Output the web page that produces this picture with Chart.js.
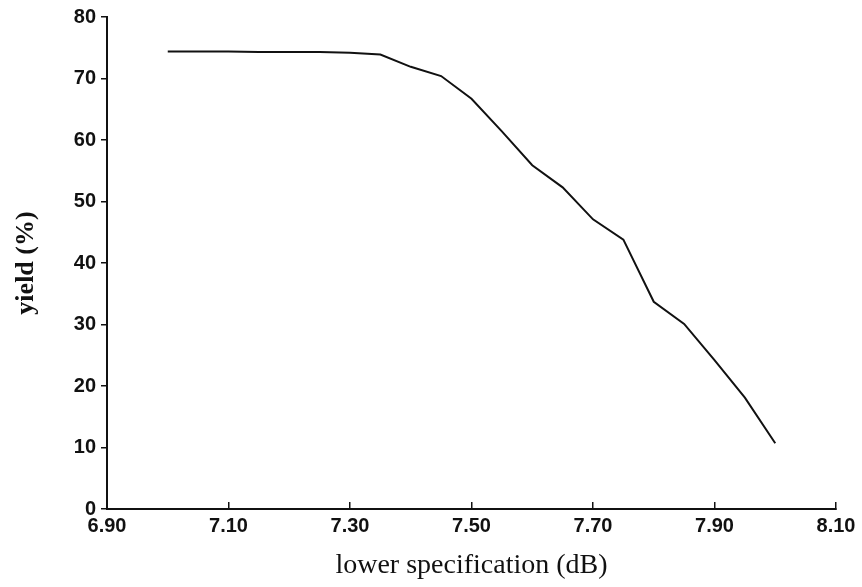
<!DOCTYPE html>
<html>
<head>
<meta charset="utf-8">
<script src="https://cdn.jsdelivr.net/npm/chart.js@4.4.1/dist/chart.umd.min.js"></script>
<style>
  html, body { margin: 0; padding: 0; background: #fff; }
  #wrap { width: 862px; height: 587px; position: relative; }
</style>
</head>
<body>
<div id="wrap"><canvas id="yieldChart"></canvas></div>
<script>
// data
const specs = [7.00, 7.05, 7.10, 7.15, 7.20, 7.25, 7.30, 7.35, 7.40, 7.45, 7.50, 7.55, 7.60, 7.65, 7.70, 7.75, 7.80, 7.85, 7.90, 7.95, 8.00];
const yields = [74.4, 74.4, 74.4, 74.3, 74.3, 74.3, 74.2, 73.9, 71.9, 70.4, 66.7, 61.4, 55.9, 52.3, 47.1, 43.8, 33.7, 30.1, 24.2, 18.1, 10.7];
const xTicks = ['6.90', '7.10', '7.30', '7.50', '7.70', '7.90', '8.10'];
const yTicks = [0, 10, 20, 30, 40, 50, 60, 70, 80];

const tickFont = { family: "'Liberation Sans', Arial, sans-serif", size: 20, weight: 'bold' };

const points = specs.map(function (s, i) { return { x: s, y: yields[i] }; });

const config = {
    type: 'line',
    data: {
        datasets: [{
            data: points,
            borderColor: '#111',
            borderWidth: 2,
            pointRadius: 0,
            tension: 0,
            fill: false
        }]
    },
    options: {
        responsive: false,
        animation: false,
        layout: { padding: { top: 17, right: 26, left: 0, bottom: 0 } },
        plugins: {
            legend: { display: false },
            tooltip: { enabled: false }
        },
        scales: {
            x: {
                type: 'linear',
                min: parseFloat(xTicks[0]),
                max: parseFloat(xTicks[xTicks.length - 1]),
                afterBuildTicks: function (scale) {
                    scale.ticks = xTicks.map(function (t) { return { value: parseFloat(t) }; });
                },
                afterFit: function (scale) {
                    scale.height = 78;
                    // labels may hang over the edge, like the original
                    scale.paddingLeft = 0;
                    scale.paddingRight = 0;
                },
                grid: { drawOnChartArea: false, drawTicks: true, tickLength: -7, color: '#111', lineWidth: 1.5 },
                border: { color: '#111', width: 2 },
                ticks: {
                    color: '#111',
                    font: tickFont,
                    padding: 12,
                    maxRotation: 0,
                    autoSkip: false,
                    callback: function (v) { return Number(v).toFixed(2); }
                },
                title: {
                    display: true,
                    text: 'lower specification (dB)',
                    color: '#111',
                    font: { family: "'Liberation Serif', 'Times New Roman', serif", size: 28 },
                    padding: { top: 0, bottom: 5 }
                }
            },
            y: {
                min: yTicks[0],
                max: yTicks[yTicks.length - 1],
                afterBuildTicks: function (scale) {
                    scale.ticks = yTicks.map(function (t) { return { value: t }; });
                },
                afterFit: function (scale) { scale.width = 107; },
                grid: { drawOnChartArea: false, drawTicks: true, tickLength: 6, color: '#111', lineWidth: 1.5 },
                border: { color: '#111', width: 2 },
                ticks: {
                    color: '#111',
                    font: tickFont,
                    padding: 5
                },
                title: {
                    display: true,
                    text: 'yield (%)',
                    color: '#111',
                    font: { family: "'Liberation Serif', 'Times New Roman', serif", size: 26, weight: 'bold' },
                    padding: { top: 11, bottom: 0 }
                }
            }
        }
    }
};

function createChart() {
    const canvas = document.getElementById('yieldChart');
    canvas.width = 862;
    canvas.height = 587;
    new Chart(canvas, config);
}

window.addEventListener('load', createChart);
</script>
</body>
</html>
